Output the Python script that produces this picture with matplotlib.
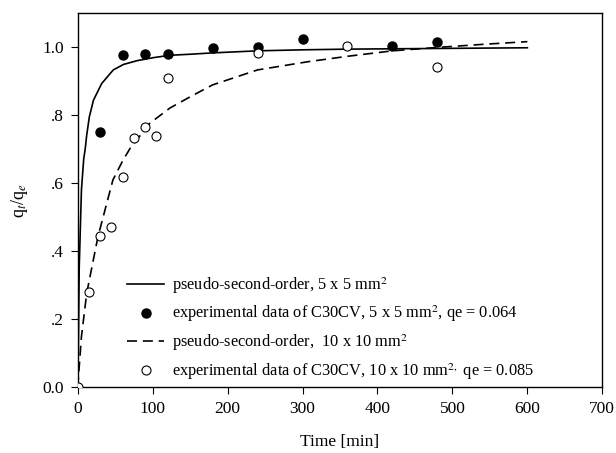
import matplotlib
matplotlib.use("Agg")
import matplotlib.pyplot as plt
from matplotlib.lines import Line2D

plt.rcParams['font.family'] = ['Liberation Serif', 'DejaVu Serif']
plt.rcParams['mathtext.fontset'] = 'stix'

# Experimental data, 5 x 5 mm2
t_small = [30, 60, 90, 120, 180, 240, 300, 420, 480]
q_small = [0.750, 0.976, 0.980, 0.978, 0.996, 0.998, 1.022, 1.003, 1.015]

# Experimental data, 10 x 10 mm2
t_large = [0, 15, 30, 45, 60, 75, 90, 105, 120, 240, 360, 480]
q_large = [0.0, 0.279, 0.444, 0.472, 0.618, 0.731, 0.765, 0.739, 0.909, 0.982, 1.002, 0.941]

# Pseudo-second-order curves
t_fit_small = [0, 1, 2, 5, 8, 10, 12, 15.5, 21, 32, 47.5, 61, 79, 101, 123, 150, 180,
               240, 300, 360, 420, 480, 600]
q_fit_small = [0.0, 0.14, 0.35, 0.58, 0.67, 0.70, 0.74, 0.794, 0.843, 0.892, 0.932, 0.948,
               0.959, 0.968, 0.975, 0.978, 0.982, 0.988, 0.991, 0.993, 0.994, 0.995, 0.997]
t_fit_large = [0, 5, 12, 27, 47, 60, 70, 96, 123, 150, 180, 240, 307, 360, 420, 480, 540, 600]
q_fit_large = [0.0, 0.149, 0.276, 0.442, 0.609, 0.665, 0.702, 0.775, 0.82, 0.853, 0.888,
               0.932, 0.956, 0.972, 0.988, 0.998, 1.007, 1.015]

xticks = [0, 100, 200, 300, 400, 500, 600, 700]
yticks = [0.0, 0.2, 0.4, 0.6, 0.8, 1.0]
ytick_labels = ['0.0', '.2', '.4', '.6', '.8', '1.0']

labels = [
    'pseudo-second-order, 5 x 5 mm$^{2}$',
    'experimental data of C30CV, 5 x 5 mm$^{2}$, qe = 0.064',
    'pseudo-second-order,  10 x 10 mm$^{2}$',
    'experimental data of C30CV, 10 x 10 mm$^{2,}$ qe = 0.085',
]

fig = plt.figure(figsize=(6.16, 4.53), dpi=100)
ax = fig.add_axes([77.7/616, 1 - 387.3/453, (602.3-77.7)/616, (387.3-12.7)/453])

ax.plot(t_fit_small, q_fit_small, color='black', lw=1.2, zorder=2)
ax.plot(t_fit_large, q_fit_large, color='black', lw=1.2, dashes=(6, 3.5), zorder=2)
ax.plot(t_small, q_small, 'o', color='black', ms=6.5, zorder=3)
ax.plot(t_large, q_large, 'o', mfc='white', mec='black', mew=0.8, ms=6.5, zorder=3)

ax.set_xlim(0, 700)
ax.set_ylim(0, 1.1)
ax.set_xticks(xticks)
ax.set_yticks(yticks)
ax.set_yticklabels(ytick_labels)
ax.tick_params(direction='out', length=5, width=0.8, labelsize=12.5, pad=5,
               top=False, right=False)
for s in ax.spines.values():
    s.set_linewidth(1.0)

ax.set_xlabel('Time [min]', fontsize=12.5, labelpad=12)
ax.set_ylabel('q$_{t}$/q$_{e}$', fontsize=13, labelpad=9)

handles = [
    Line2D([], [], color='black', lw=1.2),
    Line2D([], [], marker='o', color='black', ls='none', ms=6.5),
    Line2D([], [], color='black', lw=1.2, dashes=(6, 3.5)),
    Line2D([], [], marker='o', mfc='white', mec='black', mew=0.8, ls='none', ms=6.5),
]
fig.legend(handles, labels, loc='upper left', bbox_to_anchor=(126.7/616, 1 - 275/453),
           frameon=False, fontsize=11.8, borderpad=0, handlelength=2.3, handletextpad=0.45,
           labelspacing=0.5, borderaxespad=0)

fig.savefig('out.png', dpi=100)
